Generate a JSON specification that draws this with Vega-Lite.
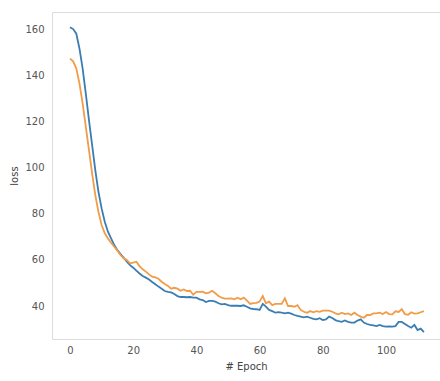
{
  "$schema": "https://vega.github.io/schema/vega-lite/v6.json",
  "autosize": "none",
  "width": 388,
  "height": 327,
  "padding": {"left": 52, "top": 12, "right": 0, "bottom": 42},
  "background": "#ffffff",
  "config": {
    "view": {"stroke": "#dcdcdc", "strokeWidth": 1},
    "font": "DejaVu Sans",
    "axis": {
      "grid": false,
      "ticks": false,
      "domain": false,
      "labelColor": "#555555",
      "labelFontSize": 10,
      "titleColor": "#444444",
      "titleFontSize": 10,
      "titleFontWeight": "normal"
    }
  },
  "data": {
    "values": [
      {"epoch":0,"loss":160.8,"val_loss":147.2},
      {"epoch":1,"loss":160.0,"val_loss":146.0},
      {"epoch":2,"loss":158.0,"val_loss":142.9},
      {"epoch":3,"loss":151.5,"val_loss":136.4},
      {"epoch":4,"loss":142.9,"val_loss":127.7},
      {"epoch":5,"loss":132.0,"val_loss":117.6},
      {"epoch":6,"loss":120.5,"val_loss":107.5},
      {"epoch":7,"loss":109.7,"val_loss":97.4},
      {"epoch":8,"loss":98.9,"val_loss":88.1},
      {"epoch":9,"loss":89.5,"val_loss":80.8},
      {"epoch":10,"loss":82.3,"val_loss":75.1},
      {"epoch":11,"loss":76.5,"val_loss":71.5},
      {"epoch":12,"loss":72.2,"val_loss":69.3},
      {"epoch":13,"loss":69.3,"val_loss":67.4},
      {"epoch":14,"loss":66.4,"val_loss":65.7},
      {"epoch":15,"loss":64.2,"val_loss":64.0},
      {"epoch":16,"loss":62.5,"val_loss":62.1},
      {"epoch":17,"loss":60.9,"val_loss":60.6},
      {"epoch":18,"loss":59.2,"val_loss":59.9},
      {"epoch":19,"loss":57.7,"val_loss":58.5},
      {"epoch":20,"loss":56.6,"val_loss":58.8},
      {"epoch":21,"loss":55.3,"val_loss":59.2},
      {"epoch":22,"loss":54.1,"val_loss":57.3},
      {"epoch":23,"loss":53.0,"val_loss":55.9},
      {"epoch":24,"loss":52.3,"val_loss":54.9},
      {"epoch":25,"loss":51.5,"val_loss":53.7},
      {"epoch":26,"loss":50.4,"val_loss":52.7},
      {"epoch":27,"loss":49.4,"val_loss":52.4},
      {"epoch":28,"loss":48.4,"val_loss":51.8},
      {"epoch":29,"loss":47.5,"val_loss":50.5},
      {"epoch":30,"loss":46.5,"val_loss":49.5},
      {"epoch":31,"loss":46.1,"val_loss":48.7},
      {"epoch":32,"loss":45.9,"val_loss":47.5},
      {"epoch":33,"loss":45.2,"val_loss":47.9},
      {"epoch":34,"loss":44.3,"val_loss":47.5},
      {"epoch":35,"loss":43.9,"val_loss":46.6},
      {"epoch":36,"loss":43.9,"val_loss":47.2},
      {"epoch":37,"loss":43.8,"val_loss":46.5},
      {"epoch":38,"loss":43.9,"val_loss":46.6},
      {"epoch":39,"loss":43.6,"val_loss":44.9},
      {"epoch":40,"loss":43.6,"val_loss":46.1},
      {"epoch":41,"loss":42.9,"val_loss":46.1},
      {"epoch":42,"loss":42.6,"val_loss":46.2},
      {"epoch":43,"loss":41.7,"val_loss":45.5},
      {"epoch":44,"loss":42.2,"val_loss":45.8},
      {"epoch":45,"loss":42.2,"val_loss":46.6},
      {"epoch":46,"loss":41.9,"val_loss":45.5},
      {"epoch":47,"loss":41.2,"val_loss":44.3},
      {"epoch":48,"loss":40.7,"val_loss":43.6},
      {"epoch":49,"loss":40.9,"val_loss":43.2},
      {"epoch":50,"loss":40.4,"val_loss":43.2},
      {"epoch":51,"loss":40.1,"val_loss":43.3},
      {"epoch":52,"loss":40.1,"val_loss":42.9},
      {"epoch":53,"loss":40.1,"val_loss":43.6},
      {"epoch":54,"loss":40.0,"val_loss":42.9},
      {"epoch":55,"loss":40.3,"val_loss":43.6},
      {"epoch":56,"loss":39.7,"val_loss":42.3},
      {"epoch":57,"loss":39.0,"val_loss":40.9},
      {"epoch":58,"loss":38.7,"val_loss":41.2},
      {"epoch":59,"loss":38.6,"val_loss":41.4},
      {"epoch":60,"loss":38.3,"val_loss":41.9},
      {"epoch":61,"loss":40.9,"val_loss":44.3},
      {"epoch":62,"loss":39.7,"val_loss":41.2},
      {"epoch":63,"loss":38.3,"val_loss":41.9},
      {"epoch":64,"loss":37.8,"val_loss":40.4},
      {"epoch":65,"loss":37.1,"val_loss":40.9},
      {"epoch":66,"loss":37.3,"val_loss":40.9},
      {"epoch":67,"loss":37.1,"val_loss":40.9},
      {"epoch":68,"loss":36.8,"val_loss":43.3},
      {"epoch":69,"loss":37.1,"val_loss":40.0},
      {"epoch":70,"loss":36.7,"val_loss":40.0},
      {"epoch":71,"loss":36.1,"val_loss":39.7},
      {"epoch":72,"loss":35.7,"val_loss":40.4},
      {"epoch":73,"loss":35.4,"val_loss":38.3},
      {"epoch":74,"loss":35.1,"val_loss":37.5},
      {"epoch":75,"loss":35.4,"val_loss":37.1},
      {"epoch":76,"loss":34.9,"val_loss":37.8},
      {"epoch":77,"loss":34.4,"val_loss":37.3},
      {"epoch":78,"loss":34.2,"val_loss":37.8},
      {"epoch":79,"loss":34.7,"val_loss":37.5},
      {"epoch":80,"loss":33.9,"val_loss":38.0},
      {"epoch":81,"loss":34.2,"val_loss":38.0},
      {"epoch":82,"loss":35.4,"val_loss":38.0},
      {"epoch":83,"loss":34.8,"val_loss":37.5},
      {"epoch":84,"loss":33.9,"val_loss":36.8},
      {"epoch":85,"loss":33.4,"val_loss":36.4},
      {"epoch":86,"loss":33.1,"val_loss":37.1},
      {"epoch":87,"loss":33.7,"val_loss":36.5},
      {"epoch":88,"loss":33.1,"val_loss":36.8},
      {"epoch":89,"loss":32.8,"val_loss":36.1},
      {"epoch":90,"loss":32.8,"val_loss":37.1},
      {"epoch":91,"loss":33.7,"val_loss":36.1},
      {"epoch":92,"loss":34.2,"val_loss":35.4},
      {"epoch":93,"loss":32.8,"val_loss":34.9},
      {"epoch":94,"loss":32.2,"val_loss":36.1},
      {"epoch":95,"loss":31.8,"val_loss":36.1},
      {"epoch":96,"loss":31.6,"val_loss":36.8},
      {"epoch":97,"loss":31.3,"val_loss":36.8},
      {"epoch":98,"loss":31.8,"val_loss":37.1},
      {"epoch":99,"loss":31.3,"val_loss":36.5},
      {"epoch":100,"loss":31.1,"val_loss":37.4},
      {"epoch":101,"loss":31.2,"val_loss":36.5},
      {"epoch":102,"loss":31.1,"val_loss":36.4},
      {"epoch":103,"loss":31.3,"val_loss":37.7},
      {"epoch":104,"loss":33.1,"val_loss":37.4},
      {"epoch":105,"loss":33.1,"val_loss":38.6},
      {"epoch":106,"loss":32.2,"val_loss":36.5},
      {"epoch":107,"loss":31.3,"val_loss":36.2},
      {"epoch":108,"loss":30.6,"val_loss":37.3},
      {"epoch":109,"loss":31.8,"val_loss":36.7},
      {"epoch":110,"loss":29.6,"val_loss":36.8},
      {"epoch":111,"loss":30.2,"val_loss":37.3},
      {"epoch":112,"loss":28.7,"val_loss":37.8}
    ]
  },
  "transform": [{"fold": ["loss", "val_loss"], "as": ["series", "value"]}],
  "mark": {"type": "line", "strokeWidth": 1.8, "clip": true},
  "encoding": {
    "x": {
      "field": "epoch",
      "type": "quantitative",
      "scale": {"domain": [-5.7, 117.1], "nice": false, "zero": false},
      "axis": {"title": "# Epoch", "values": [0, 20, 40, 60, 80, 100], "format": "d", "labelPadding": 6, "titlePadding": 6}
    },
    "y": {
      "field": "value",
      "type": "quantitative",
      "scale": {"domain": [25.7, 167.4], "nice": false, "zero": false},
      "axis": {"title": "loss", "values": [40, 60, 80, 100, 120, 140, 160], "format": "d", "labelPadding": 8, "titlePadding": 5}
    },
    "color": {
      "field": "series",
      "type": "nominal",
      "scale": {"domain": ["loss", "val_loss"], "range": ["#3a7db2", "#f19c48"]},
      "legend": null
    }
  }
}
